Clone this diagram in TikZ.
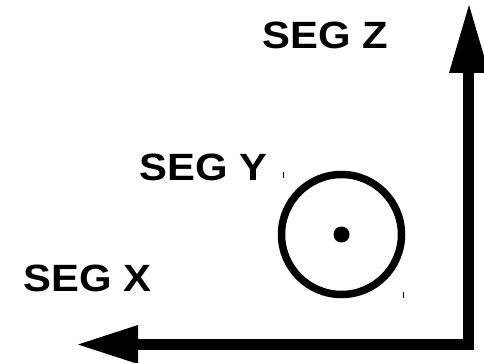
\documentclass[tikz,border=0pt]{standalone}
\usepackage{fontspec}
\setmainfont{Liberation Sans}
\begin{document}
\begin{tikzpicture}[x=1pt,y=-1pt,
  seglabel/.style={font=\bfseries\fontsize{38}{38}\selectfont, inner sep=0pt, xscale=1.1},
  shaft/.style={line width=11pt},
  tick/.style={line width=1pt}]
\useasboundingbox (0,0) rectangle (484,363);
\clip (0,0) rectangle (484,363);
% axes
\coordinate (corner) at (468.5,345);
\coordinate (ztip) at (469,5);
\coordinate (xtip) at (78,344.5);
\draw[shaft] (468.5,350) -- (468.5,72);
\fill (449,73) -- (ztip) -- (489,73) -- cycle;
\draw[shaft] (468,344.5) -- (137,344.5);
\fill (138,325) -- (xtip) -- (138,364) -- cycle;
% circle with centre dot
\node[circle, draw, line width=7.5pt, minimum size=120pt, inner sep=0pt] (ring) at (341.5,234.5) {};
\fill (ring.center) circle (8pt);
% small ticks
\draw[tick] (283,172) -- (283,178);
\draw[tick] (403,292) -- (403,298);
% labels
\node[seglabel] (lz) at (325.5,35.5) {SEG Z};
\node[seglabel] (ly) at (203.5,167) {SEG Y};
\node[seglabel] (lx) at (87.5,278.5) {SEG X};
\end{tikzpicture}
\end{document}
